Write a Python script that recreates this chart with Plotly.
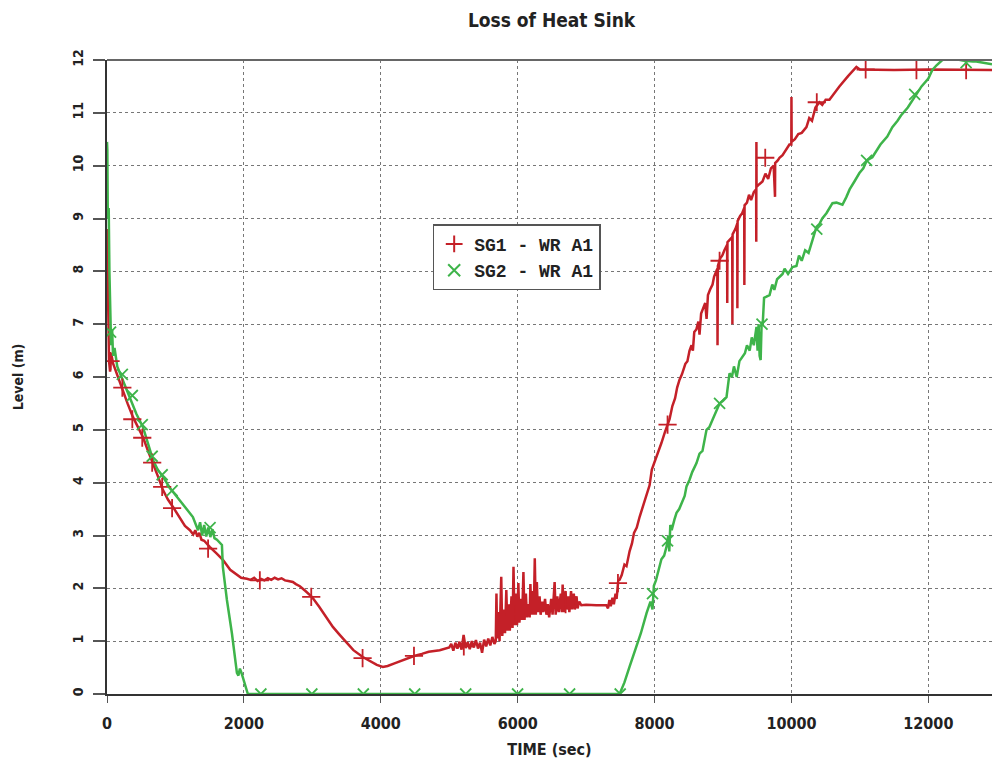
import plotly.graph_objects as go

# ---------------- data ----------------
sg1_time = [
    0, 15, 30, 45, 60, 90, 130, 180, 234, 300, 380, 450, 526, 600, 672, 750, 818, 890, 964,
    1050, 1139, 1212, 1260, 1290, 1320, 1350, 1380, 1420, 1460, 1504, 1600, 1693, 1800, 1898, 1960, 2044,
    2100, 2150, 2200, 2250, 2300, 2350, 2400, 2450, 2500, 2550, 2600, 2650, 2715, 2760, 2818,
    2900, 2993, 3100, 3200, 3300, 3400, 3504, 3600, 3737, 3850, 3942, 4030, 4100, 4200, 4300, 4400,
    4485, 4600, 4700, 4861, 5000, 5030, 5060, 5090, 5120, 5150, 5180, 5210, 5240, 5270, 5300, 5330,
    5360, 5390, 5420, 5450, 5480, 5510, 5540, 5570, 5600, 5630, 5660,
    5680, 5690, 5700, 5720, 5735, 5760, 5775, 5800, 5815, 5834, 5850, 5870, 5885, 5910, 5925, 5939,
    5955, 5975, 5990, 6010, 6025, 6050, 6065, 6084, 6100, 6120, 6135, 6160, 6175, 6186, 6200, 6220,
    6235, 6250, 6265, 6280, 6295, 6320, 6335, 6360, 6375, 6400, 6420, 6440, 6460, 6490, 6510, 6540,
    6555, 6580, 6600, 6630, 6645, 6657, 6672, 6700, 6715, 6740, 6755, 6780, 6795, 6820, 6835, 6860,
    6875, 6900, 6930, 7000, 7150, 7295, 7320, 7340, 7360, 7385, 7405, 7430, 7445, 7470, 7489,
    7520, 7560, 7590, 7635, 7670, 7700, 7740, 7781, 7820, 7854, 7890, 7927, 7960, 7990, 8029, 8060,
    8100, 8150, 8190, 8219, 8260, 8300, 8330, 8365, 8400, 8450, 8480, 8511, 8540, 8560, 8580, 8610,
    8640, 8657, 8680, 8710, 8740, 8760, 8780, 8810, 8847, 8870, 8900, 8917, 8920, 8925, 8960, 8990,
    9020, 9060, 9062, 9065, 9100, 9135, 9137, 9140, 9180, 9208, 9210, 9213, 9250, 9280, 9310, 9312,
    9315, 9350, 9380, 9410, 9450, 9484, 9486, 9488, 9490, 9530, 9577, 9620, 9660, 9700, 9740, 9760,
    9762, 9800, 9825, 9870, 9920, 9970, 9998, 10000, 10003, 10050, 10100, 10150, 10219, 10260, 10300,
    10350, 10409, 10450, 10500, 10555, 10700, 10830, 10949, 11000, 11500, 12000, 12500, 12930,
]
sg1_level = [
    8.8, 7.2, 6.3, 6.1, 6.45, 6.25, 6.1, 5.95, 5.75, 5.5, 5.24, 5.05, 4.86, 4.6, 4.37, 4.1, 3.86, 3.68, 3.54,
    3.35, 3.18, 3.1, 3.02, 3.1, 2.98, 3.05, 2.92, 2.9, 2.84, 2.78, 2.66, 2.54, 2.35, 2.25, 2.2, 2.18,
    2.16, 2.2, 2.14, 2.18, 2.15, 2.19, 2.16, 2.2, 2.17, 2.19, 2.15, 2.14, 2.12, 2.08, 2.04,
    1.95, 1.84, 1.65, 1.45, 1.27, 1.12, 0.97, 0.83, 0.70, 0.62, 0.55, 0.51, 0.53, 0.58, 0.63, 0.68,
    0.72, 0.76, 0.80, 0.83, 0.88, 0.95, 0.82, 0.97, 0.86, 0.99, 0.84, 1.12, 0.87, 0.98, 0.85, 1.0,
    0.88, 1.02, 0.86, 0.97, 0.78, 1.03, 0.90, 1.05, 0.92, 1.08, 0.95,
    1.0, 1.9, 1.05, 1.55, 1.0, 2.22, 1.1, 1.6, 1.15, 1.97, 1.2, 1.7, 1.2, 1.85, 1.25, 2.41,
    1.3, 1.9, 1.3, 2.1, 1.35, 1.8, 1.4, 2.31, 1.4, 1.9, 1.45, 1.7, 1.45, 2.08, 1.5, 1.95,
    1.5, 2.57, 1.5, 2.12, 1.55, 1.85, 1.5, 1.75, 1.55, 1.8, 1.5, 1.7, 1.45, 1.8, 1.5, 2.12,
    1.5, 1.85, 1.55, 1.9, 1.55, 2.07, 1.55, 1.95, 1.6, 1.85, 1.55, 1.95, 1.6, 1.9, 1.6, 1.85,
    1.62, 1.75, 1.68, 1.69, 1.68, 1.68, 1.62, 1.78, 1.66, 1.82, 1.7, 1.9, 1.8, 2.15, 2.16,
    2.25, 2.45, 2.42, 2.7, 2.85, 3.05, 3.15, 3.35, 3.5, 3.65, 3.8, 3.95, 4.25, 4.35, 4.5, 4.6,
    4.75, 4.95, 5.1, 5.2, 5.45, 5.6, 5.8, 5.95, 6.05, 6.25, 6.3, 6.5, 6.6, 6.5, 6.85, 6.9,
    7.05, 6.8, 7.2, 7.3, 7.4, 7.1, 7.55, 7.65, 7.75, 7.9, 8.0, 8.05, 6.6, 8.1, 8.25, 8.3,
    8.4, 8.5, 7.4, 8.55, 8.6, 8.65, 7.0, 8.7, 8.8, 8.9, 7.3, 8.95, 9.05, 9.1, 9.2, 7.74,
    9.25, 9.3, 9.45, 9.35, 9.5, 9.55, 8.56, 10.45, 9.6, 9.65, 9.7, 9.85, 9.75, 9.95, 10.0, 9.41,
    10.05, 10.1, 10.15, 10.2, 10.3, 10.4, 10.4, 11.3, 10.45, 10.5, 10.6, 10.62, 10.73, 10.9, 10.85,
    11.1, 11.2, 11.15, 11.25, 11.25, 11.5, 11.7, 11.87, 11.82, 11.81, 11.82, 11.81, 11.81,
]

sg2_time = [
    0, 5, 12, 25, 35, 50, 60, 75, 88, 110, 150, 190, 260, 336, 430, 526, 600, 672, 740, 818, 920,
    1022, 1140, 1255, 1300, 1330, 1360, 1390, 1420, 1450, 1480, 1510, 1540, 1570, 1606, 1679,
    1693, 1752, 1825, 1898, 1920, 1942, 1965, 1985, 2058, 7489,
    7560, 7635, 7737, 7800, 7883, 7940, 7970, 7990, 8020, 8060, 8100, 8140, 8175, 8200, 8215, 8230,
    8250, 8290, 8321, 8360, 8409, 8440, 8467, 8510, 8550, 8613, 8657, 8700, 8759, 8800, 8850, 8905,
    8950, 9000, 9051, 9095, 9130, 9160, 9200, 9240, 9285, 9320, 9350, 9390, 9420, 9450, 9489, 9505,
    9520, 9535, 9550, 9565, 9580, 9600, 9635, 9680, 9720, 9750, 9790, 9825, 9870, 9900, 9950, 10015,
    10073, 10110, 10150, 10200, 10250, 10307, 10365, 10410, 10450, 10511, 10560, 10599, 10657, 10745,
    10800, 10850, 10920, 10993, 11050, 11100, 11182, 11250, 11300, 11400, 11474, 11550, 11600, 11700,
    11766, 11850, 11900, 12000, 12058, 12120, 12204, 12300, 12400, 12500, 12550, 12650, 12700, 12800, 12930,
]
sg2_level = [
    10.45, 10.3, 9.0, 9.2, 8.0, 7.0, 6.6, 6.9, 6.4, 6.55, 6.2, 6.07, 5.85, 5.62, 5.3, 5.05, 4.75, 4.43, 4.25, 4.11, 3.9,
    3.73, 3.55, 3.35, 3.2, 3.1, 3.25, 3.0, 3.2, 2.98, 3.15, 2.97, 3.12, 2.95, 2.92, 2.82,
    2.4, 1.78, 1.15, 0.4, 0.35, 0.48, 0.4, 0.32, 0.0, 0.0,
    0.22, 0.52, 0.9, 1.15, 1.53, 1.75, 1.6, 2.05, 2.15, 2.35, 2.55, 2.62, 2.79, 3.0, 2.7, 3.2,
    3.1, 3.3, 3.43, 3.5, 3.67, 3.75, 3.93, 4.05, 4.2, 4.37, 4.55, 4.6, 5.0, 5.05, 5.2, 5.35,
    5.5, 5.55, 5.62, 6.07, 6.0, 6.2, 6.0, 6.3, 6.38, 6.45, 6.6, 6.5, 6.75, 6.6, 6.95, 6.5,
    7.0, 6.4, 6.32, 7.05, 7.0, 7.5, 7.52, 7.55, 7.75, 7.65, 7.85, 7.9, 7.95, 8.05, 7.95, 8.08,
    8.1, 8.3, 8.2, 8.4, 8.35, 8.59, 8.84, 8.9, 9.0, 9.1, 9.2, 9.29, 9.3, 9.26,
    9.4, 9.55, 9.7, 9.86, 9.95, 10.1, 10.16, 10.3, 10.4, 10.55, 10.73, 10.85, 10.95, 11.1,
    11.24, 11.4, 11.5, 11.65, 11.81, 11.9, 12.0, 12.03, 12.02, 11.99, 11.98, 11.97, 11.97, 11.95, 11.92,
]

# symbol positions of each curve
sg1_mark_time = [52, 224, 370, 515, 660, 806, 951, 1477, 2233, 2984, 3734, 4485, 5213, 5960, 6700,
                 7465, 8190, 8950, 9617, 10370, 11084, 11826, 12552]
sg1_mark_level = [6.3, 5.8, 5.2, 4.85, 4.38, 3.92, 3.52, 2.75, 2.15, 1.84, 0.68, 0.72, 0.9, 1.5, 1.7,
                  2.1, 5.1, 8.2, 10.15, 11.2, 11.82, 11.81, 11.81]
sg2_mark_time = [52, 224, 370, 515, 660, 806, 951, 1506, 2248, 2993, 3745, 4496, 5241, 5999, 6759,
                 7498, 7970, 8190, 8950, 9570, 10370, 11098, 11800, 12552]
sg2_mark_level = [6.85, 6.05, 5.65, 5.1, 4.5, 4.15, 3.85, 3.15, 0.0, 0.0, 0.0, 0.0, 0.0, 0.0, 0.0,
                  0.0, 1.9, 2.9, 5.5, 7.0, 8.8, 10.1, 11.35, 11.95]

series_names = ["SG1 - WR A1", "SG2 - WR A1"]
x_ticks = [0, 2000, 4000, 6000, 8000, 10000, 12000]
y_ticks = list(range(0, 13))

RED = "rgb(196,32,40)"
GREEN = "rgb(62,180,74)"
NARROW = "DejaVu Sans Condensed, Liberation Sans Narrow, Arial Narrow, Liberation Sans, sans-serif"
TXT = "#222"

fig = go.Figure()
fig.add_trace(go.Scatter(x=sg1_time, y=sg1_level, mode="lines", line=dict(color=RED, width=2.5),
                         showlegend=False, hoverinfo="skip"))
fig.add_trace(go.Scatter(x=sg2_time, y=sg2_level, mode="lines", line=dict(color=GREEN, width=2.5),
                         showlegend=False, hoverinfo="skip"))
fig.add_trace(go.Scatter(x=sg1_mark_time, y=sg1_mark_level, mode="markers", name=series_names[0],
                         marker=dict(symbol="cross-thin-open", size=13, color=RED,
                                     line=dict(color=RED, width=1.8))))
fig.add_trace(go.Scatter(x=sg2_mark_time, y=sg2_mark_level, mode="markers", name=series_names[1],
                         marker=dict(symbol="x-thin-open", size=11, color=GREEN,
                                     line=dict(color=GREEN, width=1.8))))

fig.update_layout(
    width=992, height=763,
    margin=dict(l=107, r=0, t=60, b=69, autoexpand=False),
    paper_bgcolor="white", plot_bgcolor="white",
    title=dict(text="<b>Loss of Heat Sink</b>", x=0.556, xanchor="center", y=0.973, yanchor="middle",
               font=dict(family=NARROW, size=19, color=TXT)),
    legend=dict(x=0.368, y=0.741, xanchor="left", yanchor="top", bgcolor="white",
                bordercolor="#555", borderwidth=1.5,
                font=dict(family="Liberation Mono, Courier New, monospace", size=18, color=TXT,
                          weight="bold"),
                tracegroupgap=0, itemsizing="constant", itemwidth=30),
    showlegend=True,
)
fig.update_xaxes(
    range=[0, 12930], tickvals=x_ticks, ticktext=[str(v) for v in x_ticks],
    showgrid=True, gridcolor="#777", griddash="dot", gridwidth=1,
    showline=True, linecolor="#333", linewidth=2, mirror=False,
    ticks="outside", ticklen=7, tickcolor="#555", tickwidth=1,
    tickfont=dict(family=NARROW, size=16, color=TXT, weight="bold"), ticklabelstandoff=7,
    title=dict(text="<b>TIME (sec)</b>", font=dict(family=NARROW, size=16, color=TXT), standoff=12),
    zeroline=False, automargin=False,
)
fig.update_yaxes(
    range=[0, 12], tickvals=y_ticks, ticktext=[str(v) for v in y_ticks],
    showgrid=True, gridcolor="#777", griddash="dot", gridwidth=1,
    showline=True, linecolor="#333", linewidth=2,
    ticks="outside", ticklen=12, tickcolor="#555", tickwidth=1.5,
    tickangle=-90, tickfont=dict(family=NARROW, size=14, color=TXT, weight="bold"), ticklabelstandoff=4,
    title=dict(text="<b>Level (m)</b>", font=dict(family=NARROW, size=14, color=TXT), standoff=44),
    zeroline=False, automargin=False,
)
# top frame line at y = 12
fig.add_shape(type="line", xref="paper", yref="paper", x0=0, x1=1, y0=1, y1=1,
              line=dict(color="#666", width=2))

# remove the default page margin so the figure sits at the window's top-left corner
fig.write_html("out.html", config={"displayModeBar": False},
               post_script="document.body.style.margin='0';")
